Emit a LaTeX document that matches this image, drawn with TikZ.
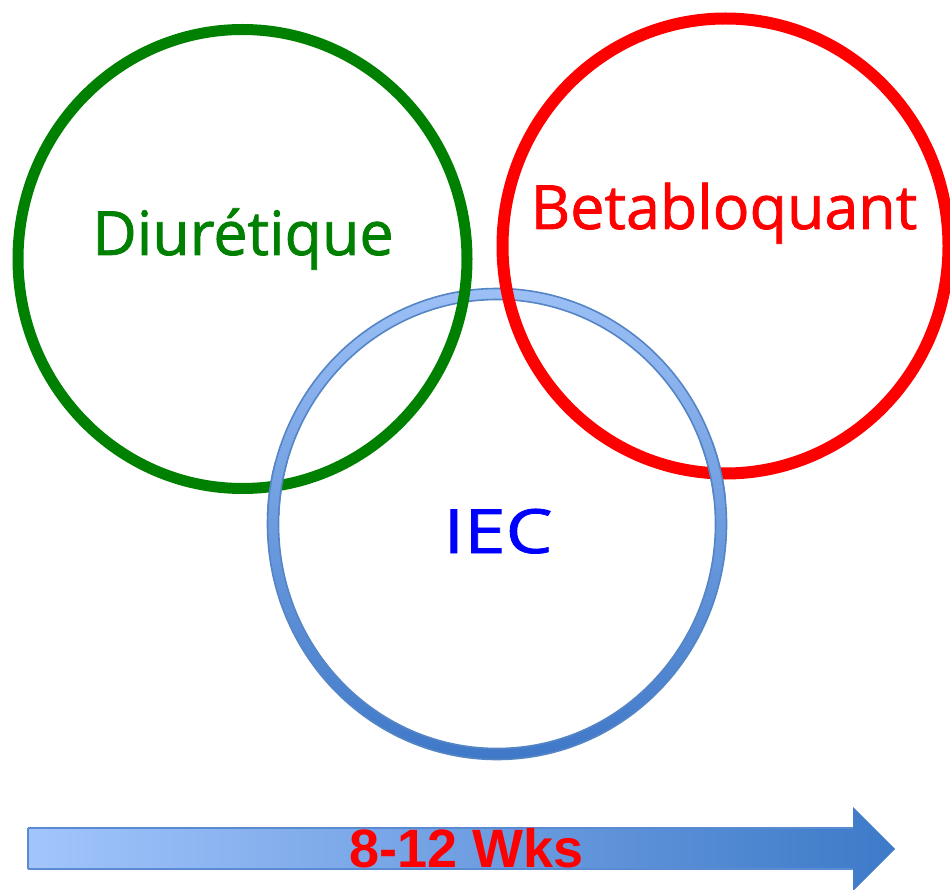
\documentclass[tikz,border=0pt]{standalone}
\usepackage{graphicx}
\usepackage{fontspec}
\setmainfont{Open Sans}
\newfontfamily\lblfont{Open Sans}[FakeBold=1.2]
\newfontfamily\arialfont{Liberation Sans}
\definecolor{grn}{HTML}{008000}
\definecolor{rd}{HTML}{FF0000}
\definecolor{bl}{HTML}{0000FF}
\definecolor{ringtop}{HTML}{9CC0F6}
\definecolor{ringbot}{HTML}{3F78C8}
\definecolor{ringline}{HTML}{5585C5}
\definecolor{arrleft}{HTML}{A2C5FC}
\definecolor{arrright}{HTML}{3D7AC8}
\definecolor{arrline}{HTML}{5A8BD0}
\newcommand\drawbluering{%
  \path[even odd rule, top color=ringtop, bottom color=ringbot]
    (497,524) ellipse [x radius=229.5, y radius=235.5]
    (497,524) ellipse [x radius=218.5, y radius=224.5];
  \draw[ringline, line width=1.6pt] (497,524) ellipse [x radius=229.5, y radius=235.5];
  \draw[ringline, line width=1.6pt] (497,524) ellipse [x radius=218.5, y radius=224.5];
}
\begin{document}
\begin{tikzpicture}[x=1pt,y=-1pt,
  lbl/.style={font=\lblfont\fontsize{61}{72}\selectfont, anchor=base, inner sep=0pt},
  ringgreen/.style={draw=grn, line width=11pt},
  ringred/.style={draw=rd, line width=12pt}]
\fill[white] (0,0) rectangle (950,890);
\useasboundingbox (0,0) rectangle (950,890);
% blue ring
\drawbluering
% green and red rings
\draw[ringgreen] (242.5,259) ellipse [x radius=224.5, y radius=229.5];
\draw[ringred] (725.5,246) ellipse [x radius=223, y radius=227.5];
% blue over green / red at bottom crossings
\begin{scope}
  \clip (250,462) rectangle (296,515);
  \drawbluering
\end{scope}
\begin{scope}
  \clip (698,442) rectangle (746,497);
  \drawbluering
\end{scope}
% labels
\node[lbl, text=grn] (diu) at (243,255) {Diurétique};
\node[lbl, text=rd] (beta) at (724,229) {Betabloquant};
\node[lbl, text=bl] (iec) at (498,553) {\scalebox{1.22}[1]{IEC}};
% arrow
\path[left color=arrleft, right color=arrright]
  (28,828) -- (853,828) -- (853,807) -- (895,849) -- (853,891) -- (853,869) -- (28,869) -- cycle;
\draw[arrline, line width=1.5pt] (28,828) -- (853,828) (28,869) -- (853,869) (28,828) -- (28,869);
\node[font=\arialfont\bfseries\fontsize{54}{60}\selectfont, text=rd, anchor=base, inner sep=0pt] (wks) at (467,867) {8-12 Wks};
\end{tikzpicture}
\end{document}
